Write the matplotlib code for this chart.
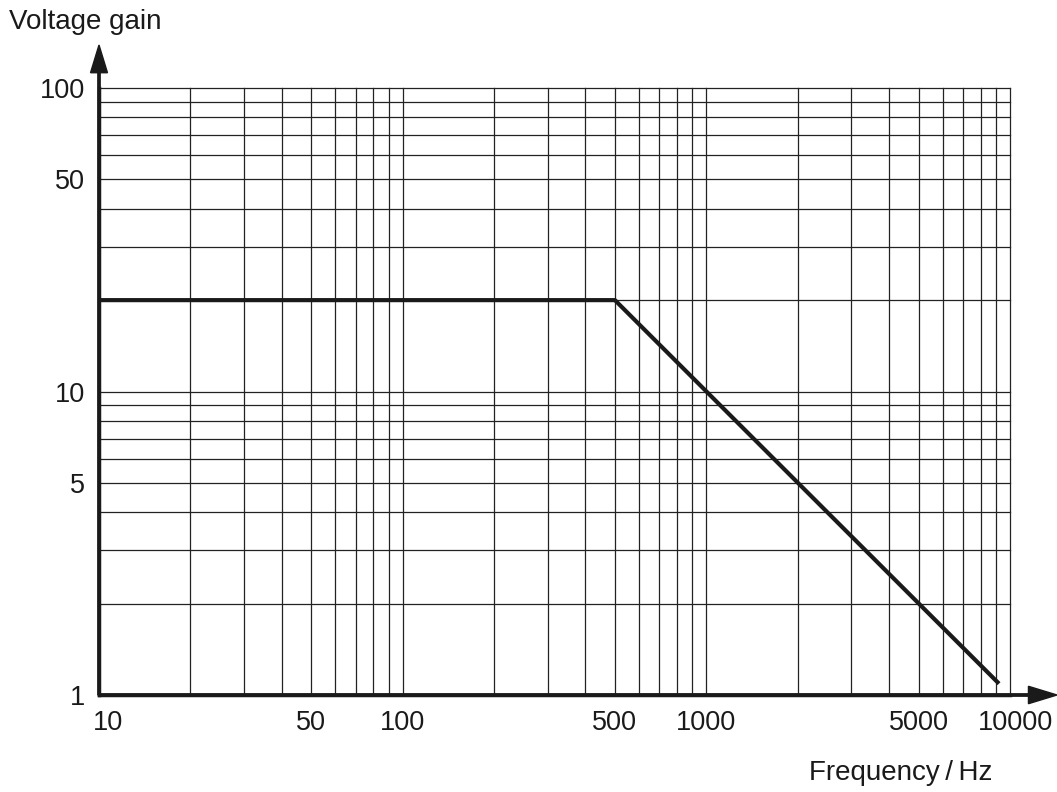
import matplotlib
matplotlib.use("Agg")
import matplotlib.pyplot as plt
import matplotlib.transforms as mtransforms
from matplotlib.ticker import FixedLocator, NullFormatter, FixedFormatter

plt.rcParams['font.family'] = ['Liberation Sans', 'DejaVu Sans']

freq = [10, 500, 9200]
gain = [20, 20, 1.09]
x_tick_vals = [10, 50, 100, 500, 1000, 5000, 10000]
x_tick_labels = ['10', '50', '100', '500', '1000', '5000', '10000']
y_tick_vals = [1, 5, 10, 50, 100]
y_tick_labels = ['1', '5', '10', '50', '100']
x_grid = [m * 10 ** e for e in (1, 2, 3) for m in range(1, 10)] + [10000]
y_grid = [m * 10 ** e for e in (0, 1) for m in range(1, 10)] + [100]

fig = plt.figure(figsize=(10.57, 7.92), dpi=100)
ax = fig.add_axes([99 / 1057, 1 - 695 / 792, (1010 - 99) / 1057, (695 - 88) / 792])
ax.set_xscale('log')
ax.set_yscale('log')
ax.set_xlim(10, 10000)
ax.set_ylim(1, 100)

for xv in x_grid:
    ax.axvline(xv, color='#222222', lw=0.9, zorder=1, clip_on=False)
for yv in y_grid:
    ax.axhline(yv, color='#222222', lw=0.9, zorder=1, clip_on=False)

ax.plot(freq, gain, color='#1a1a1a', lw=3, zorder=3, solid_capstyle='butt')

ax.xaxis.set_major_locator(FixedLocator(x_tick_vals))
ax.xaxis.set_major_formatter(FixedFormatter(x_tick_labels))
ax.xaxis.set_minor_locator(FixedLocator([]))
ax.xaxis.set_minor_formatter(NullFormatter())
ax.yaxis.set_major_locator(FixedLocator(y_tick_vals))
ax.yaxis.set_major_formatter(FixedFormatter(y_tick_labels))
ax.yaxis.set_minor_locator(FixedLocator([]))
ax.yaxis.set_minor_formatter(NullFormatter())
ax.tick_params(axis='both', length=0, labelsize=19.5, colors='#1a1a1a')
ax.tick_params(axis='x', pad=11)
ax.tick_params(axis='y', pad=10)

# small horizontal nudges of edge labels as in reference
fig.canvas.draw()
xlabels = ax.get_xticklabels()
shifts = {0: 9, len(xlabels) - 1: 6}
for i, dx in shifts.items():
    lbl = xlabels[i]
    lbl.set_transform(lbl.get_transform() + mtransforms.ScaledTranslation(dx / 100, 0, fig.dpi_scale_trans))

for s in ('top', 'right'):
    ax.spines[s].set_visible(False)
for s in ('left', 'bottom'):
    ax.spines[s].set_linewidth(2.5)
    ax.spines[s].set_color('#1a1a1a')

# axis arrows
fig.patches.append(matplotlib.patches.FancyArrow(
    99 / 1057, 1 - 695 / 792, 0, (695 - 45) / 792, width=0.0022,
    head_width=0.016, head_length=0.035, length_includes_head=True,
    color='#1a1a1a', transform=fig.transFigure, figure=fig))
fig.patches.append(matplotlib.patches.FancyArrow(
    99 / 1057, 1 - 695 / 792, (1057 - 99) / 1057, 0, width=0.003,
    head_width=0.022, head_length=0.027, length_includes_head=True,
    color='#1a1a1a', transform=fig.transFigure, figure=fig))

fig.text(9 / 1057, 1 - 22 / 792, 'Voltage gain', fontsize=20, va='center', ha='left', color='#1a1a1a')
fig.text(992 / 1057, 1 - 773 / 792, 'Frequency\u2009/\u2009Hz', fontsize=20, va='center', ha='right', color='#1a1a1a')

fig.savefig('out.png', dpi=100)
